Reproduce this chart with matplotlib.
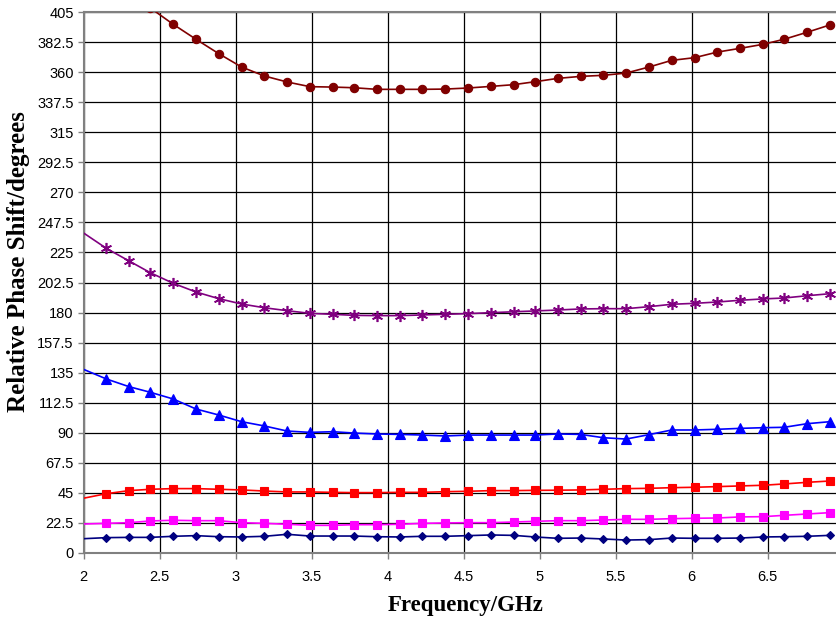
import matplotlib
matplotlib.use("Agg")
import matplotlib.pyplot as plt
from matplotlib.ticker import FuncFormatter

# frequences (GHz) des points mesures
freq = [2.15, 2.30, 2.44, 2.59, 2.74, 2.89, 3.04, 3.19, 3.34, 3.49, 3.64,
        3.78, 3.93, 4.08, 4.23, 4.38, 4.53, 4.68, 4.83, 4.97, 5.12, 5.27,
        5.42, 5.57, 5.72, 5.87, 6.02, 6.17, 6.32, 6.47, 6.61, 6.76, 6.91]
# debut de ligne au bord gauche (x = 2), sans marqueur
f_debut = 2.0

s_marron = [438, 422, 408, 395.8, 384.6, 373.8, 363.8, 357.1, 352.6, 349.1, 348.8,
            348.3, 347.1, 347.1, 347.1, 347.3, 348.1, 349.3, 350.6, 352.8, 355.3, 356.8,
            357.6, 359.3, 363.8, 368.8, 370.8, 375.0, 377.8, 380.8, 384.6, 389.8, 395.3]
d_marron = 455

s_violet = [228.1, 218.6, 209.8, 201.9, 195.4, 190.4, 186.4, 183.6, 181.4, 179.4, 178.7,
            177.9, 177.7, 177.7, 178.2, 178.7, 179.2, 179.9, 180.6, 181.2, 181.9, 182.7,
            182.9, 182.9, 184.4, 186.2, 186.9, 187.9, 189.2, 190.2, 190.9, 192.6, 194.1]
d_violet = 239.6

s_bleu = [130.3, 124.5, 120.3, 115.3, 107.8, 103.3, 98.3, 95.1, 91.3, 90.3, 90.8,
          89.8, 89.1, 88.8, 88.3, 87.6, 88.3, 88.3, 88.3, 88.3, 89.1, 88.8,
          86.3, 85.3, 88.6, 92.1, 92.1, 92.6, 93.3, 93.8, 94.1, 96.8, 98.3]
d_bleu = 137.5

s_rouge = [44.4, 46.7, 47.7, 48.2, 48.2, 47.7, 47.2, 46.4, 45.7, 45.7, 45.4,
           45.2, 45.2, 45.4, 45.4, 45.9, 46.2, 46.7, 46.7, 46.9, 47.0, 47.2,
           47.7, 48.2, 48.4, 48.9, 49.2, 49.7, 50.2, 50.7, 51.7, 52.9, 53.9]
d_rouge = 41.0

s_magenta = [22.2, 22.7, 24.0, 24.5, 24.2, 24.2, 22.7, 22.2, 21.5, 20.7, 20.7,
             21.2, 21.2, 21.5, 22.2, 22.5, 22.7, 22.7, 23.2, 23.7, 24.2, 24.2,
             24.7, 25.2, 25.2, 25.7, 26.0, 26.2, 27.0, 27.2, 28.2, 29.2, 30.2]
d_magenta = 21.7

s_marine = [11.5, 11.7, 11.7, 12.5, 13.0, 12.2, 12.0, 12.5, 14.0, 12.7, 12.7,
            12.7, 12.2, 12.0, 12.5, 12.5, 13.0, 13.5, 13.2, 12.0, 11.0, 11.2,
            10.5, 9.7, 10.0, 11.2, 11.0, 11.0, 11.2, 12.0, 12.2, 12.5, 13.2]
d_marine = 10.7

yticks = [0, 22.5, 45, 67.5, 90, 112.5, 135, 157.5, 180, 202.5, 225,
          247.5, 270, 292.5, 315, 337.5, 360, 382.5, 405]
xticks = [2, 2.5, 3, 3.5, 4, 4.5, 5, 5.5, 6, 6.5]

series = [
    (s_marron, d_marron, "#800000", "o", 6),
    (s_violet, d_violet, "#800080", (6, 2, 0), 8),
    (s_bleu, d_bleu, "#0000FF", "^", 7),
    (s_rouge, d_rouge, "#FF0000", "s", 6),
    (s_magenta, d_magenta, "#FF00FF", "s", 6),
    (s_marine, d_marine, "#000080", "D", 4.5),
]

fig = plt.figure(figsize=(8.36, 6.2), dpi=100)
# l'axe depasse a droite de l'image (comme la capture d'origine)
ax = fig.add_axes([83.5 / 836, 67 / 620, 760 / 836, 541 / 620])

for valeurs, debut, couleur, marqueur, taille in series:
    x = [f_debut] + freq
    y = [debut] + valeurs
    ax.plot(x, y, color=couleur, lw=1.2, marker=marqueur, markersize=taille,
            markevery=list(range(1, len(x))), markeredgewidth=1.2 if marqueur == (6, 2, 0) else 0.8,
            markeredgecolor=couleur, markerfacecolor=couleur, zorder=3)

ax.set_xlim(2, 7)
ax.set_ylim(0, 405)
ax.set_yticks(yticks)
ax.set_xticks(xticks)
fmt = FuncFormatter(lambda v, p: f"{v:g}")
ax.yaxis.set_major_formatter(fmt)
ax.xaxis.set_major_formatter(fmt)
ax.grid(True, color="black", lw=0.9)
ax.set_axisbelow(True)
for cote in ["left", "bottom", "top"]:
    ax.spines[cote].set_color("#808080")
    ax.spines[cote].set_linewidth(1.5)
ax.spines["right"].set_visible(False)
ax.tick_params(axis="both", length=4, width=1, color="#808080",
               labelsize=10.5, pad=3)
for lab in ax.get_xticklabels() + ax.get_yticklabels():
    lab.set_fontfamily("Liberation Sans")
ax.tick_params(axis="x", pad=8)

ax.set_xlabel("Frequency/GHz", fontfamily="Liberation Serif", fontweight="bold",
              fontsize=16.5)
ax.set_ylabel("Relative Phase Shift/degrees", fontfamily="Liberation Serif",
              fontweight="bold", fontsize=18)
ax.xaxis.set_label_coords((466 - 83.5) / 760, -(606 - 553) / 541)
ax.yaxis.set_label_coords(-(83.5 - 19) / 760, (553 - 262) / 541)
ax.xaxis.label.set_va("center")
ax.yaxis.label.set_va("center")

fig.savefig("out.png", dpi=100)
